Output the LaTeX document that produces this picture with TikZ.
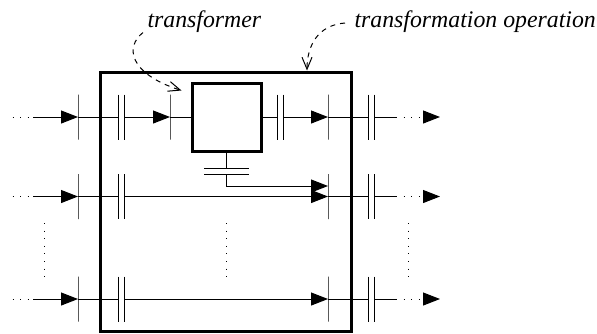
\documentclass[tikz,border=0pt]{standalone}
\usepackage{fontspec}
\setmainfont{Liberation Serif}
\usetikzlibrary{arrows.meta,positioning,calc}

% channel: two short parallel bars
\newcommand{\chanbar}[3][]{%
  \node[chan,#1] (#2) at #3 {};
  \draw (#2.north west) -- (#2.south west) (#2.north east) -- (#2.south east);}

\begin{document}
\begin{tikzpicture}[x=0.5pt, y=-0.5pt, line width=0.5pt]
  \useasboundingbox (0,0) rectangle (597,333);
  % Define styles
  \tikzstyle{port} = [draw, rectangle, inner sep=0pt, outer sep=0pt, minimum width=0pt, minimum height=22.5pt]
  \tikzstyle{chan} = [rectangle, inner sep=0pt, outer sep=0pt, minimum width=3pt, minimum height=22.5pt]
  \tikzstyle{opbox} = [draw, rectangle, line width=1.5pt, minimum width=125.5pt, minimum height=129.5pt]
  \tikzstyle{tbox} = [draw, rectangle, line width=1.5pt, minimum width=34.5pt, minimum height=34pt]
  \tikzstyle{flow} = [-{Triangle[length=8.5pt,width=6.5pt]}]
  \tikzstyle{dots} = [dash pattern=on 0.5pt off 3.3pt]
  \tikzstyle{note} = [dash pattern=on 2.5pt off 2.5pt, -{Straight Barb[length=6pt,width=5pt]}]
  \tikzstyle{lbl} = [font=\itshape\fontsize{11.9}{14}\selectfont, inner sep=0pt, anchor=base west]

  % Operation and transformer
  \node [opbox] (op) at (225.5,201.5) {};
  \node [tbox] (tr) at (226.5,117) {};

  % Rows
  \foreach \r/\y in {1/117, 2/196.5, 3/299} {
    \coordinate (in\r) at (12.5,\y);
    \coordinate (s\r) at (33,\y);
    \node [port] (pa\r) at (78,\y) {};
    \chanbar{ca\r}{(121,\y)}
    \node [port] (pc\r) at (328,\y) {};
    \chanbar{cc\r}{(371.5,\y)}
    \coordinate (e\r) at (396,\y);
    \coordinate (out\r) at (440,\y);
    \draw [dots] (in\r) -- (s\r);
    \draw [flow] (s\r) -- (pa\r);
    \draw (pa\r) -- (ca\r);
    \draw (pc\r) -- (cc\r);
    \draw (cc\r) -- (e\r);
    \draw [dots,flow] (e\r) -- (out\r);
  }

  % Row 1 through the transformer
  \node [port] (pb1) at (170,117) {};
  \chanbar{cb1}{(280.5,117)}
  \draw [flow] (ca1) -- (pb1);
  \draw (pb1) -- (tr);
  \draw (tr) -- (cb1);
  \draw [flow] (cb1) -- (pc1);

  % Rows 2 and 3
  \draw [flow] (ca2) -- (pc2);
  \draw [flow] (ca3) -- (pc3);

  % Transformer output
  \chanbar[rotate=90]{tc}{(226.5,171.5)}
  \draw (tr) -- (tc);
  \draw [flow] (tc) |- ([yshift=5.25pt]pc2.west);

  % Vertical ellipses
  \foreach \x in {44,226.5,408}
    \draw [dots] (\x,223) -- (\x,277);

  % Labels
  \node [lbl] (tf) at (147,27) {transformer};
  \node [lbl] (tfo) at (354,27) {transformation operation};
  \draw [note] ([xshift=-2pt]tf.south west) .. controls +(-18,14) and +(-53,-17) .. ([xshift=-4.5pt,yshift=-4.5pt]tr.north west);
  \draw [note] ([xshift=-4.5pt,yshift=2pt]tfo.base west) .. controls +(-27,2) and +(0,-25) .. ([xshift=40.75pt]op.north);

\end{tikzpicture}
\end{document}
